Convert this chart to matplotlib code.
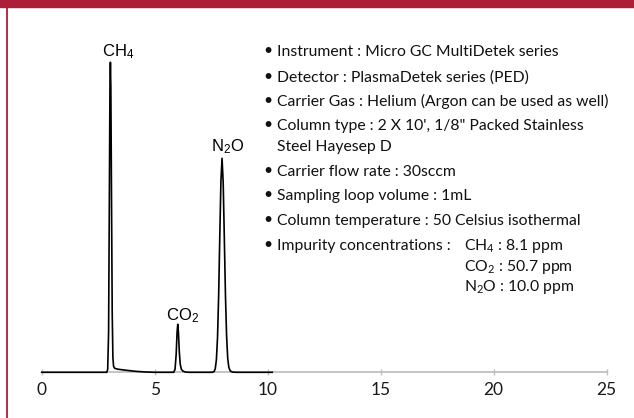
import matplotlib
matplotlib.use("Agg")
import matplotlib.pyplot as plt
from matplotlib.patches import Rectangle
from matplotlib.lines import Line2D

# ---------------- data ----------------
time_min = [0.00, 2.88, 2.92, 2.96, 2.99, 3.02, 3.04, 3.06, 3.09, 3.12, 3.15, 3.18,
            3.23, 3.35, 3.60, 3.90, 4.20, 4.60, 5.00,
            5.84, 5.90, 5.95, 5.99, 6.02, 6.05, 6.09, 6.13, 6.18, 6.25, 6.35, 6.50,
            7.55, 7.63, 7.68, 7.73, 7.78, 7.83, 7.88, 7.93, 7.98, 8.03, 8.08, 8.13,
            8.18, 8.23, 8.28, 8.34, 8.43, 8.60, 10.20]
signal = [0.0, 0.0, 3.0, 40.0, 160.0, 285.0, 310.0, 285.0, 170.0, 60.0, 15.0, 6.0,
          4.0, 3.2, 2.4, 1.6, 0.9, 0.3, 0.0,
          0.0, 3.0, 18.0, 40.0, 48.0, 40.0, 20.0, 8.0, 3.0, 1.2, 0.3, 0.0,
          0.0, 0.8, 3.6, 12.6, 35.0, 77.0, 136.0, 191.0, 214.0, 190.0, 135.0, 78.0,
          37.0, 14.0, 5.0, 1.5, 0.3, 0.0, 0.0]

x_ticks = [0, 5, 10, 15, 20, 25]
peak_labels = ["CH$_4$", "CO$_2$", "N$_2$O"]

bullets = [
    "Instrument : Micro GC MultiDetek series",
    "Detector : PlasmaDetek series (PED)",
    "Carrier Gas : Helium (Argon can be used as well)",
    "Column type : 2 X 10', 1/8\" Packed Stainless",
    "Carrier flow rate : 30sccm",
    "Sampling loop volume : 1mL",
    "Column temperature : 50 Celsius isothermal",
    "Impurity concentrations :",
]
wrapped = "Steel Hayesep D"
impurities = ["CH$_4$ : 8.1 ppm", "CO$_2$ : 50.7 ppm", "N$_2$O : 10.0 ppm"]

# ---------------- figure ----------------
W, H = 634, 418
plt.rcParams["mathtext.default"] = "regular"
fig = plt.figure(figsize=(W / 100, H / 100), dpi=100)

def fx(px):
    return px / W

def fy(py):
    return 1 - py / H

RED = "#AD1E38"
fig.patches.append(Rectangle((0, fy(7)), 1, 1 - fy(7), transform=fig.transFigure,
                             color=RED, zorder=0))
fig.lines.append(Line2D([fx(7), fx(7)], [0, fy(6)], transform=fig.transFigure,
                        color=RED, lw=1.3))

x0, x25 = 41.7, 606.7
base = 372.3
ax = fig.add_axes([fx(x0), fy(base), (x25 - x0) / W, 320 / H])
ax.set_xlim(0, 25)
ax.set_ylim(0, 320)
for s in ["top", "right", "left"]:
    ax.spines[s].set_visible(False)
ax.spines["bottom"].set_color("#BFBFBF")
ax.spines["bottom"].set_linewidth(1.3)
ax.set_yticks([])
ax.set_xticks(x_ticks)
ax.set_xticklabels([str(t) for t in x_ticks])
ax.tick_params(axis="x", direction="inout", length=4, width=1, color="#BFBFBF",
               labelsize=12.5, labelcolor="#1a1a1a", pad=5)
for lbl in ax.get_xticklabels():
    lbl.set_family("Lato")
ax.patch.set_alpha(0)

ax.plot(time_min, signal, color="black", lw=1.2, zorder=3, clip_on=False)

label_font = dict(family="Liberation Sans", fontsize=12, color="black", va="baseline")
fig.text(fx(101.7), fy(56.7), peak_labels[0], **label_font)
fig.text(fx(165.7), fy(320), peak_labels[1], **label_font)
fig.text(fx(211), fy(151.7), peak_labels[2], **label_font)

txt_font = dict(family="Lato", fontsize=11.3, color="#111111", va="baseline")
baselines = [56, 81.7, 106, 130, 176, 200, 225, 250]
for b, t in zip(baselines, bullets):
    fig.text(fx(263), fy(b - 1), "\u2022", **txt_font)
    fig.text(fx(276.7), fy(b), t, **txt_font)
fig.text(fx(276.7), fy(150.5), wrapped, **txt_font)
imp_base = [250, 270.5, 291.5]
for b, t in zip(imp_base, impurities):
    fig.text(fx(464), fy(b), t, **txt_font)

fig.savefig("out.png", dpi=100)
